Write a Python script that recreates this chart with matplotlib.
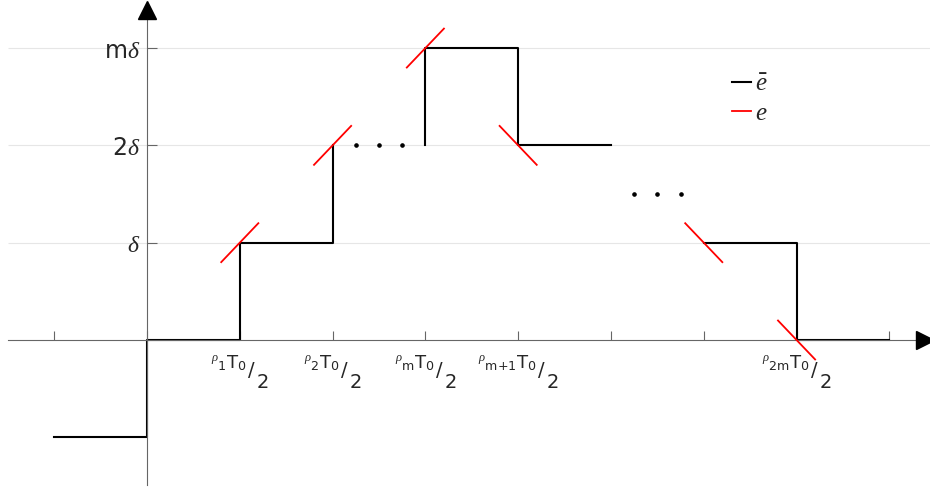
import matplotlib
matplotlib.use("Agg")
import matplotlib.pyplot as plt
from matplotlib.offsetbox import TextArea, HPacker, VPacker, DrawingArea, AnnotationBbox

# step signal e-bar, drawn in three pieces (gaps are the "..." parts)
piece1_x = [-1, 0, 1, 2]
piece1_y = [-1, 0, 1, 2]
piece2_x = [3, 3, 4, 5]
piece2_y = [2, 3, 2, 2]
piece3_x = [6, 7, 8]
piece3_y = [1, 0, 0]

# red e segments crossing the step corners
e_x = [1, 2, 3, 4, 6, 7]
e_y = [1, 2, 3, 2, 1, 0]
e_slope = [1, 1, 1, -1, -1, -1]

# the dots
dots_x = [2.25, 2.5, 2.75, 5.25, 5.5, 5.75]
dots_y = [2, 2, 2, 1.5, 1.5, 1.5]

xtick_pos = [-1, 0, 1, 2, 3, 4, 5, 6, 7, 8]
label_pos = [1, 2, 3, 4, 7]
rho_subs = ['1', '2', 'm', 'm{+}1', '2m']
ytick_pos = [1, 2, 3]
ytick_labels = [r'$\delta$', r'2$\delta$', r'm$\delta$']

plt.rcParams['font.family'] = ['DejaVu Sans']
plt.rcParams['mathtext.fontset'] = 'custom'
plt.rcParams['mathtext.rm'] = 'DejaVu Sans'
plt.rcParams['mathtext.sf'] = 'DejaVu Sans'
plt.rcParams['mathtext.it'] = 'Liberation Serif:italic'
plt.rcParams['mathtext.bf'] = 'DejaVu Sans:bold'

axis_col = '#666666'
txt_col = '#262626'


def shifted(text, size, drop):
    # text piece pushed down by `drop` points under a top-aligned row
    ta = TextArea(text, textprops=dict(fontsize=size, color=txt_col))
    return VPacker(children=[DrawingArea(0, drop), ta], align='left', pad=0, sep=0)


def rho_label(sub):
    part_a = TextArea(r'${}^{\rho}{}_{\mathrm{' + sub + r'}}\mathrm{T}_{0}$',
                      textprops=dict(fontsize=13, color=txt_col))
    return HPacker(children=[part_a, shifted(r'$/$', 14, 5), shifted(r'$2$', 14, 14)],
                   align='top', pad=0, sep=0)


fig = plt.figure(figsize=(9.3, 4.91), dpi=100)
ax = fig.add_axes([0, 0, 1, 1])
ax.set_xlim(-1.584, 8.438)
ax.set_ylim(-1.552, 3.494)

# axes through the origin
for s in ['top', 'right']:
    ax.spines[s].set_visible(False)
ax.spines['left'].set_position(('data', 0))
ax.spines['bottom'].set_position(('data', 0))
ax.spines['bottom'].set_bounds(-1.5, 8.33)
ax.spines['left'].set_bounds(-1.49, 3.35)
for s in ['left', 'bottom']:
    ax.spines[s].set_color(axis_col)
    ax.spines[s].set_linewidth(0.8)

# arrow heads
ax.plot([8.384], [0], '>', ms=13.5, color='black', clip_on=False, zorder=5)
ax.plot([0], [3.39], '^', ms=13.5, color='black', clip_on=False, zorder=5)

# grid
ax.hlines(ytick_pos, -1.5, 8.44, colors='#e6e6e6', lw=0.8, zorder=0)

ax.set_xticks(xtick_pos)
ax.set_xticklabels([])
ax.set_yticks(ytick_pos)
ax.set_yticklabels(ytick_labels)
ax.tick_params(axis='x', direction='in', length=6.5, width=0.8, color=axis_col)
ax.tick_params(axis='y', direction='in', length=7, width=0.8, color=axis_col,
               labelsize=17, labelcolor=txt_col, pad=5)

# x labels like  rho_1 T_0 /_2
for x, sub in zip(label_pos, rho_subs):
    ab = AnnotationBbox(rho_label(sub), (x, 0), xybox=(0, -9.5), xycoords='data',
                        boxcoords='offset points', box_alignment=(0.5, 1),
                        frameon=False, pad=0, annotation_clip=False)
    ax.add_artist(ab)

# black step signal
ax.step(piece1_x, piece1_y, where='post', color='black', lw=1.5, label=r'$\bar{e}$')
ax.step(piece2_x, piece2_y, where='post', color='black', lw=1.5)
ax.step(piece3_x, piece3_y, where='post', color='black', lw=1.5)

# red crossing segments
h = 0.2
for i, (x, y, s) in enumerate(zip(e_x, e_y, e_slope)):
    ax.plot([x - h, x + h], [y - h * s, y + h * s], color='red', lw=1.3,
            label=r'$e$' if i == 0 else None, zorder=4)

ax.plot(dots_x, dots_y, 'o', color='black', ms=2.3, ls='none')

leg = ax.legend(loc='upper left', bbox_to_anchor=(732 / 930, 1 - 72 / 491),
                frameon=False, fontsize=18, handlelength=0.75, handletextpad=0.15,
                labelspacing=0.2, borderpad=0, borderaxespad=0)
for t in leg.get_texts():
    t.set_color(txt_col)

fig.savefig('out.png', dpi=100)
